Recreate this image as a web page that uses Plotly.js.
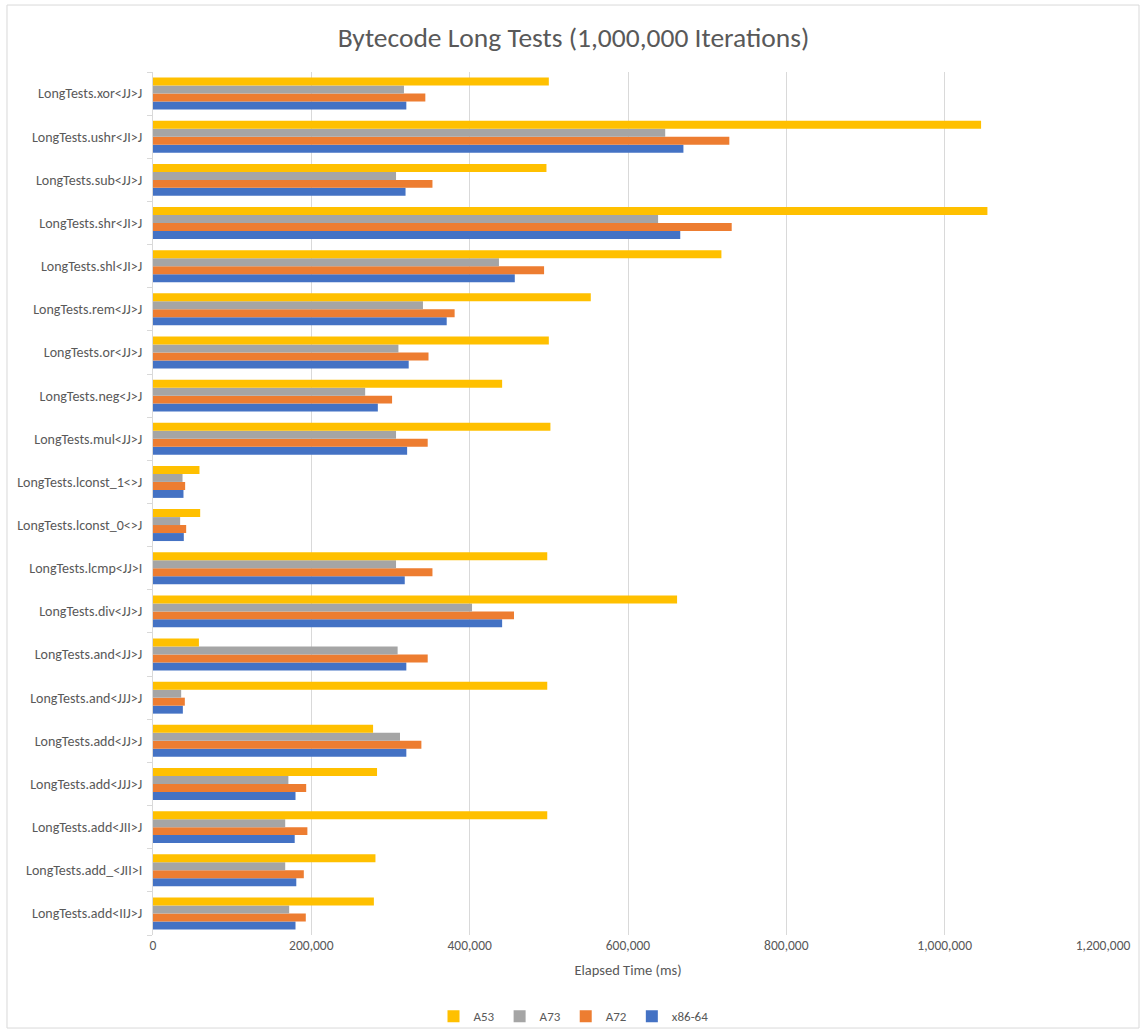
<!DOCTYPE html>
<html>
<head>
<meta charset="utf-8">
<script src="https://cdn.plot.ly/plotly-3.0.1.min.js"></script>
<style>html,body{margin:0;padding:0;background:#fff;}#chart{width:1147px;height:1036px;}</style>
</head>
<body>
<div id="chart"></div>
<script>
// Categories listed from bottom to top
const categories = [
  "LongTests.add<IIJ>J",
  "LongTests.add_<JII>I",
  "LongTests.add<JII>J",
  "LongTests.add<JJJ>J",
  "LongTests.add<JJ>J",
  "LongTests.and<JJJ>J",
  "LongTests.and<JJ>J",
  "LongTests.div<JJ>J",
  "LongTests.lcmp<JJ>I",
  "LongTests.lconst_0<>J",
  "LongTests.lconst_1<>J",
  "LongTests.mul<JJ>J",
  "LongTests.neg<J>J",
  "LongTests.or<JJ>J",
  "LongTests.rem<JJ>J",
  "LongTests.shl<JI>J",
  "LongTests.shr<JI>J",
  "LongTests.sub<JJ>J",
  "LongTests.ushr<JI>J",
  "LongTests.xor<JJ>J"
];
const a53 = [279000, 281000, 498000, 283000, 278000, 498000, 58000, 662000, 498000, 59600, 58700, 502000, 441000, 500000, 553000, 718000, 1054000, 497000, 1046000, 500000];
const a73 = [172000, 167000, 167000, 171000, 312000, 35600, 309000, 403000, 307000, 34300, 37300, 307000, 268000, 310000, 341000, 437000, 638000, 307000, 647000, 317000];
const a72 = [193000, 190500, 195000, 193500, 339000, 40200, 347000, 456000, 353000, 41900, 40600, 347000, 302000, 348000, 381000, 494000, 731000, 353000, 728000, 344000];
const x86 = [180000, 181000, 179000, 180000, 320000, 37700, 320000, 441000, 318000, 38900, 38500, 321000, 284000, 323000, 371000, 457000, 666000, 319000, 670000, 320000];

const seriesNames = ["x86-64", "A72", "A73", "A53"];
const seriesData = [x86, a72, a73, a53];
const seriesColors = ["#4472C4", "#ED7D31", "#A5A5A5", "#FFC000"];

const FONT = "Carlito, 'Liberation Sans Narrow', 'Noto Sans', sans-serif";

const traces = seriesNames.map((n, i) => ({
  type: "bar",
  orientation: "h",
  name: n,
  y: categories,
  x: seriesData[i],
  marker: {color: seriesColors[i]},
  hoverinfo: "x+y+name"
}));

const layout = {
  width: 1147,
  height: 1036,
  paper_bgcolor: "#ffffff",
  plot_bgcolor: "#ffffff",
  font: {family: FONT, color: "#595959", size: 13},
  title: {text: "Bytecode Long Tests (1,000,000 Iterations)", font: {family: FONT, size: 27.5, color: "#595959"}, x: 0.5, xanchor: "center", y: 0.964, yanchor: "middle"},
  margin: {l: 153, r: 44, t: 72, b: 101},
  barmode: "group",
  bargap: 0.26,
  bargroupgap: 0,
  xaxis: {
    range: [0, 1200000],
    dtick: 200000,
    tick0: 0,
    tickformat: ",d",
    showgrid: true,
    gridcolor: "#d9d9d9",
    gridwidth: 1,
    zeroline: false,
    showline: false,
    ticks: "",
    tickfont: {family: FONT, size: 13.5, color: "#595959"},
    title: {text: "Elapsed Time (ms)", font: {family: FONT, size: 14.5, color: "#595959"}, standoff: 12}
  },
  yaxis: {
    type: "category",
    categoryorder: "array",
    categoryarray: categories,
    showline: true,
    linecolor: "#d9d9d9",
    linewidth: 1,
    ticks: "outside",
    tickson: "boundaries",
    ticklen: 5,
    tickcolor: "#d9d9d9",
    ticklabelstandoff: 7,
    showgrid: false,
    tickfont: {family: FONT, size: 14, color: "#595959"},
    automargin: false
  },
  legend: {
    orientation: "h",
    traceorder: "reversed",
    xref: "container",
    yref: "container",
    x: 0.5, xanchor: "center",
    y: 0.019, yanchor: "middle",
    bgcolor: "rgba(0,0,0,0)",
    font: {family: FONT, size: 13, color: "#595959"},
    itemwidth: 30,
    tracegroupgap: 0
  },
  shapes: [{
    type: "rect", xref: "paper", yref: "paper",
    x0: -0.1537, x1: 1.0379, y0: -0.1078, y1: 1.0776,
    line: {color: "#d9d9d9", width: 1}, fillcolor: "rgba(0,0,0,0)", layer: "below"
  }],
  showlegend: true
};

Plotly.newPlot("chart", traces, layout, {displayModeBar: false, staticPlot: true});
</script>
</body>
</html>
